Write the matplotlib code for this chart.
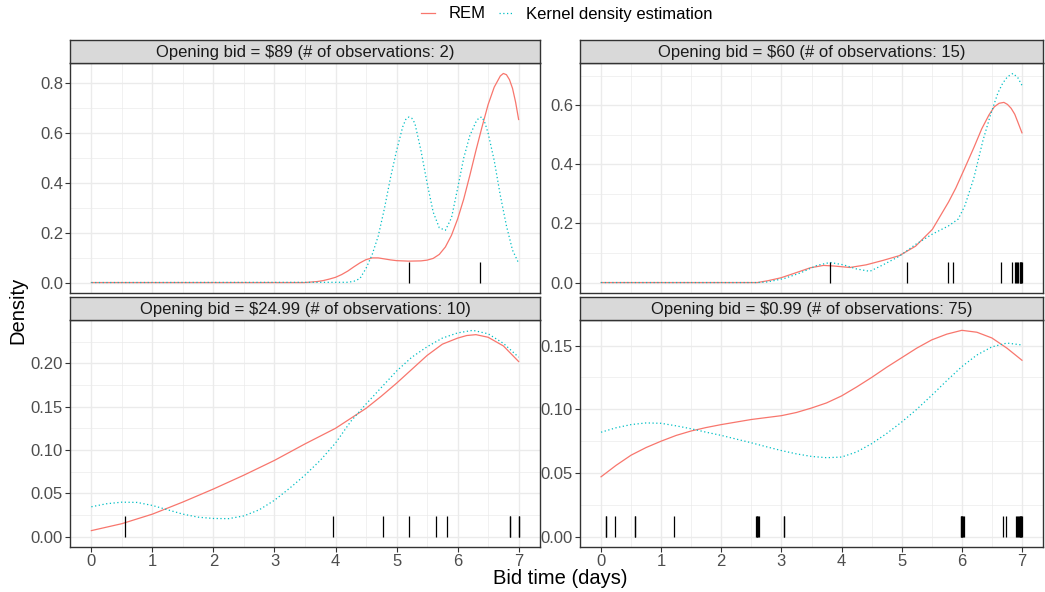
import matplotlib
matplotlib.use("Agg")
import matplotlib.pyplot as plt
from matplotlib.lines import Line2D
from matplotlib.ticker import MultipleLocator

plt.rcParams["font.family"] = ["Liberation Sans", "DejaVu Sans"]

RED = "#F8766D"
CYAN = "#00BFC4"
GRID = "#EBEBEB"
BORDER = "#333333"

titles = [
    "Opening bid = $89 (# of observations: 2)",
    "Opening bid = $60 (# of observations: 15)",
    "Opening bid = $24.99 (# of observations: 10)",
    "Opening bid = $0.99 (# of observations: 75)",
]

# panel 1: $89
rem1_x = [0, 3.5, 3.6, 3.7, 3.8, 3.9, 4.0, 4.1, 4.2, 4.3, 4.4, 4.5, 4.6, 4.7,
          4.8, 4.9, 5.0, 5.2, 5.4, 5.5, 5.6, 5.7, 5.8, 5.9, 6.0, 6.1, 6.2,
          6.3, 6.4, 6.5, 6.6, 6.7, 6.75, 6.8, 6.85, 6.9, 6.95, 7.0]
rem1_y = [0, 0, 0.002, 0.004, 0.008, 0.014, 0.021, 0.032, 0.046, 0.063,
          0.079, 0.092, 0.099, 0.099, 0.095, 0.091, 0.088, 0.086, 0.087,
          0.09, 0.097, 0.113, 0.143, 0.19, 0.255, 0.335, 0.43, 0.53, 0.625,
          0.715, 0.785, 0.83, 0.84, 0.835, 0.815, 0.78, 0.725, 0.655]
kde1_x = [0, 4.2, 4.3, 4.4, 4.5, 4.6, 4.7, 4.8, 4.9, 5.0, 5.1, 5.15, 5.2,
          5.25, 5.3, 5.4, 5.5, 5.6, 5.7, 5.8, 5.9, 6.0, 6.1, 6.2, 6.3, 6.35,
          6.4, 6.45, 6.5, 6.6, 6.7, 6.8, 6.9, 7.0]
kde1_y = [0, 0.001, 0.005, 0.016, 0.057, 0.112, 0.187, 0.296, 0.42, 0.53,
          0.625, 0.655, 0.665, 0.66, 0.64, 0.53, 0.40, 0.283, 0.22, 0.21,
          0.26, 0.378, 0.50, 0.59, 0.645, 0.662, 0.665, 0.64, 0.60, 0.49,
          0.35, 0.228, 0.13, 0.078]
rug1 = [5.21, 6.36]

# panel 2: $60
rem2_x = [0, 2.6, 2.77, 2.99, 3.21, 3.48, 3.70, 3.87, 4.14, 4.41, 4.69, 4.96,
          5.23, 5.51, 5.78, 5.9, 6.05, 6.2, 6.33, 6.45, 6.54, 6.62, 6.70,
          6.76, 6.82, 6.88, 6.93, 7.0]
rem2_y = [0, 0, 0.006, 0.016, 0.031, 0.05, 0.058, 0.056, 0.051, 0.06, 0.075,
          0.091, 0.123, 0.18, 0.273, 0.32, 0.388, 0.457, 0.52, 0.567, 0.595,
          0.607, 0.61, 0.603, 0.59, 0.57, 0.544, 0.507]
kde2_x = [0, 2.6, 2.77, 3.05, 3.32, 3.59, 3.81, 4.03, 4.25, 4.47, 4.69, 4.96,
          5.23, 5.51, 5.78, 5.94, 6.05, 6.2, 6.35, 6.48, 6.60, 6.68, 6.76,
          6.85, 6.93, 7.0]
kde2_y = [0, 0, 0.002, 0.014, 0.033, 0.058, 0.068, 0.06, 0.046, 0.038, 0.06,
          0.089, 0.129, 0.164, 0.192, 0.215, 0.26, 0.354, 0.48, 0.57, 0.642,
          0.675, 0.697, 0.708, 0.694, 0.668]
rug2 = [3.81, 5.08, 5.77, 5.85, 6.65, 6.83, 6.88, 6.90, 6.92, 6.94, 6.96,
        6.97, 6.98, 6.99, 7.0]

# panel 3: $24.99
rem3_x = [0, 0.5, 1.0, 1.5, 2.0, 2.5, 3.0, 3.5, 4.0, 4.5, 4.75, 5.0, 5.25,
          5.5, 5.75, 6.0, 6.15, 6.3, 6.5, 6.75, 7.0]
rem3_y = [0.007, 0.015, 0.026, 0.040, 0.055, 0.071, 0.088, 0.107, 0.125,
          0.148, 0.162, 0.177, 0.193, 0.209, 0.222, 0.229, 0.232, 0.233,
          0.23, 0.22, 0.202]
kde3_x = [0, 0.25, 0.5, 0.75, 1.0, 1.25, 1.5, 1.75, 2.0, 2.25, 2.5, 2.75,
          3.0, 3.25, 3.5, 3.75, 4.0, 4.25, 4.5, 4.75, 5.0, 5.25, 5.5, 5.75,
          6.0, 6.25, 6.5, 6.75, 7.0]
kde3_y = [0.0345, 0.038, 0.0398, 0.0395, 0.036, 0.031, 0.026, 0.0225, 0.021,
          0.0208, 0.024, 0.031, 0.042, 0.056, 0.071, 0.088, 0.108, 0.133,
          0.153, 0.172, 0.191, 0.207, 0.219, 0.229, 0.235, 0.238, 0.234,
          0.223, 0.207]
rug3 = [0.55, 3.96, 4.78, 5.21, 5.65, 5.82, 6.86, 6.86, 7.0, 7.0]

# panel 4: $0.99
rem4_x = [0, 0.25, 0.5, 0.75, 1.0, 1.25, 1.5, 1.75, 2.0, 2.25, 2.5, 2.75,
          3.0, 3.25, 3.5, 3.75, 4.0, 4.25, 4.5, 4.75, 5.0, 5.25, 5.5, 5.75,
          6.0, 6.25, 6.5, 6.75, 7.0]
rem4_y = [0.047, 0.056, 0.064, 0.070, 0.075, 0.0795, 0.083, 0.0857, 0.088,
          0.090, 0.092, 0.0935, 0.095, 0.0975, 0.101, 0.105, 0.1105, 0.1175,
          0.125, 0.133, 0.1405, 0.148, 0.1545, 0.159, 0.162, 0.1605, 0.156,
          0.148, 0.1385]
kde4_x = [0, 0.25, 0.5, 0.75, 1.0, 1.25, 1.5, 1.75, 2.0, 2.25, 2.5, 2.75,
          3.0, 3.25, 3.5, 3.75, 4.0, 4.25, 4.5, 4.75, 5.0, 5.25, 5.5, 5.75,
          6.0, 6.25, 6.5, 6.75, 7.0]
kde4_y = [0.082, 0.0855, 0.088, 0.0893, 0.089, 0.087, 0.0847, 0.082, 0.0795,
          0.0766, 0.0737, 0.0706, 0.0676, 0.065, 0.063, 0.062, 0.0625,
          0.0665, 0.073, 0.081, 0.09, 0.1, 0.111, 0.1225, 0.1335, 0.1426,
          0.149, 0.152, 0.1505]
rug4 = [0.09, 0.09, 0.24, 0.57, 0.57, 1.22, 2.58, 2.59, 2.60, 2.61, 2.62,
        3.05, 3.05, 5.98, 5.99, 6.00, 6.01, 6.02, 6.03, 6.68, 6.73, 6.90,
        6.92, 6.94, 6.95, 6.96, 6.97, 6.98, 6.99, 7.0]

panels = [
    (rem1_x, rem1_y, kde1_x, kde1_y, rug1, 0.2),
    (rem2_x, rem2_y, kde2_x, kde2_y, rug2, 0.2),
    (rem3_x, rem3_y, kde3_x, kde3_y, rug3, 0.05),
    (rem4_x, rem4_y, kde4_x, kde4_y, rug4, 0.05),
]

W, H = 1045, 592
fig = plt.figure(figsize=(W / 100, H / 100), dpi=100)
fig.patch.set_facecolor("white")

# pixel boxes: (left, top, right, bottom) of the plotting area
boxes = [(70, 63, 540, 293), (580, 63, 1043, 293),
         (70, 320, 540, 547), (580, 320, 1043, 547)]
strip_h = 23


def frac(l, t, r, b):
    return [l / W, 1 - b / H, (r - l) / W, (b - t) / H]


for i, (box, (rx, ry, kx, ky, rug, step)) in enumerate(zip(boxes, panels)):
    l, t, r, b = box
    ax = fig.add_axes(frac(l, t, r, b))
    ax.set_facecolor("white")

    ymax = max(max(ry), max(ky))
    pad = ymax * 0.05
    ax.set_xlim(-0.35, 7.35)
    ax.set_ylim(-pad, ymax + pad)

    ax.xaxis.set_major_locator(MultipleLocator(1))
    ax.xaxis.set_minor_locator(MultipleLocator(0.5))
    ax.yaxis.set_major_locator(MultipleLocator(step))
    ax.yaxis.set_minor_locator(MultipleLocator(step / 2))
    ax.grid(which="major", color=GRID, linewidth=1.0)
    ax.grid(which="minor", color=GRID, linewidth=0.5)
    ax.set_axisbelow(True)

    ax.plot(rx, ry, color=RED, linewidth=0.9, zorder=3)
    ax.plot(kx, ky, color=CYAN, linewidth=0.9, linestyle=(0, (1, 2)), zorder=3)
    ax.vlines(rug, 0, ymax * 0.1, color="black", linewidth=0.9, zorder=4)

    for s in ax.spines.values():
        s.set_color(BORDER)
        s.set_linewidth(1.0)

    ax.tick_params(which="both", colors=BORDER, labelcolor="#4D4D4D",
                   labelsize=12, length=3.5, width=0.8, pad=1.5)
    ax.tick_params(which="minor", length=0)
    if i < 2:
        ax.tick_params(axis="x", which="both", bottom=False, labelbottom=False)

    if step == 0.2:
        ax.yaxis.set_major_formatter(lambda v, p: f"{v:.1f}")
    else:
        ax.yaxis.set_major_formatter(lambda v, p: f"{v:.2f}")

    # strip
    sax = fig.add_axes(frac(l, t - strip_h, r, t))
    sax.set_facecolor("#D9D9D9")
    sax.set_xticks([])
    sax.set_yticks([])
    for s in sax.spines.values():
        s.set_color(BORDER)
        s.set_linewidth(1.0)
    sax.text(0.5, 0.46, titles[i], ha="center", va="center", fontsize=12,
             color="#1A1A1A", transform=sax.transAxes)

fig.text(18 / W, 1 - 310 / H, "Density", rotation=90, ha="center",
         va="center", fontsize=14.5)
fig.text(560 / W, 1 - 578 / H, "Bid time (days)", ha="center", va="center",
         fontsize=14.5)

handles = [Line2D([], [], color=RED, linewidth=0.9),
           Line2D([], [], color=CYAN, linewidth=0.9, linestyle=(0, (1, 2)))]
fig.legend(handles, ["REM", "Kernel density estimation"], loc="center",
           bbox_to_anchor=(567 / W, 1 - 14 / H), ncol=2, frameon=False,
           fontsize=12, handlelength=0.85, columnspacing=0.8,
           handletextpad=0.8)

fig.savefig("out.png", dpi=100, facecolor="white")
